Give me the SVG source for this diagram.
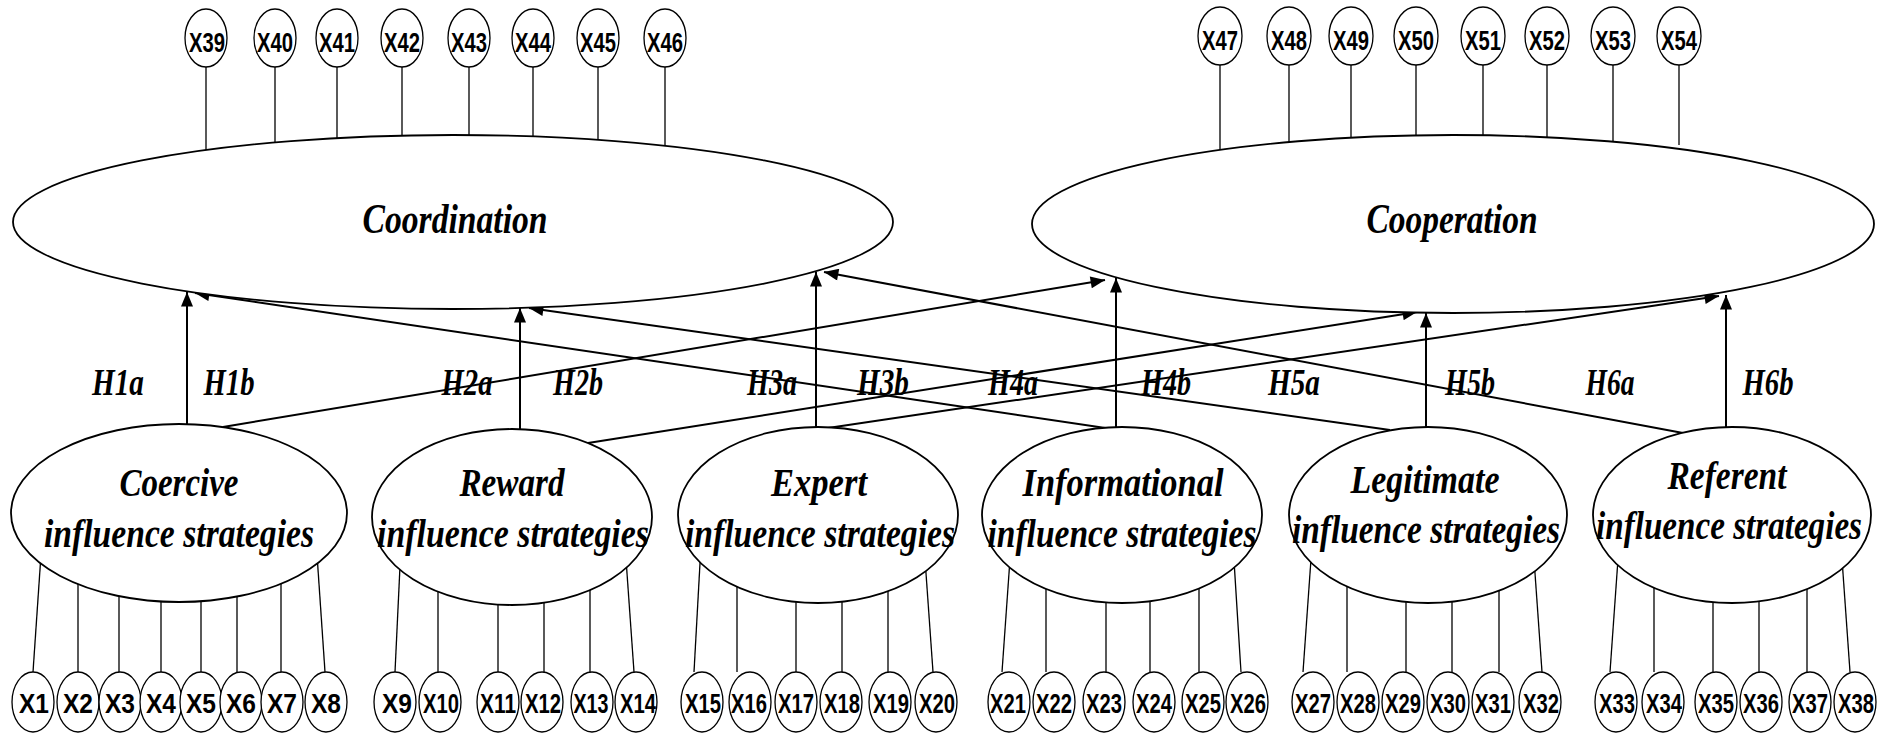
<svg xmlns="http://www.w3.org/2000/svg" width="1891" height="733" viewBox="0 0 1891 733">
  <style>
    .bg { fill: #ffffff; }
    .lat { fill: #ffffff; stroke: #000; stroke-width: 1.8; }
    .ind { fill: #ffffff; stroke: #000; stroke-width: 1.3; }
    .load { stroke: #000; stroke-width: 1.3; fill: none; }
    .path { stroke: #000; stroke-width: 2; fill: none; marker-end: url(#arrow); }
    .itxt { font-family: "Liberation Sans", Arial, sans-serif; font-weight: bold; fill: #000; text-anchor: middle; }
    .ltxt { font-family: "Liberation Serif", "Times New Roman", serif; font-style: italic; font-weight: bold; fill: #000; text-anchor: middle; }
    .big { font-size: 43px; }
    .mid { font-size: 40px; }
    .hyp { font-family: "Liberation Serif", "Times New Roman", serif; font-style: italic; font-weight: bold; font-size: 37px; fill: #000; text-anchor: middle; }
    .top { font-size: 27px; }
    .bot { font-size: 28px; }
  </style>
  <defs>
    <marker id="arrow" viewBox="0 0 12 10" refX="12" refY="5" markerWidth="16" markerHeight="12" markerUnits="userSpaceOnUse" orient="auto">
      <path d="M0,0 L12,5 L0,10 z" fill="#000"/>
    </marker>
  </defs>
  <rect class="bg" x="0" y="0" width="1891" height="733"/>

  <!-- loadings and structural paths -->
  <g id="connectors">
    <!-- Coordination indicators -->
    <line class="load" x1="206" y1="67" x2="206" y2="162"/>
    <line class="load" x1="275" y1="67" x2="275" y2="155"/>
    <line class="load" x1="337" y1="67" x2="337" y2="152"/>
    <line class="load" x1="402" y1="67" x2="402" y2="149"/>
    <line class="load" x1="469" y1="67" x2="469" y2="148"/>
    <line class="load" x1="533" y1="67" x2="533" y2="149"/>
    <line class="load" x1="598" y1="67" x2="598" y2="153"/>
    <line class="load" x1="665" y1="67" x2="665" y2="157"/>
    <!-- Cooperation indicators -->
    <line class="load" x1="1220" y1="65" x2="1220" y2="159"/>
    <line class="load" x1="1289" y1="65" x2="1289" y2="154"/>
    <line class="load" x1="1351" y1="65" x2="1351" y2="150"/>
    <line class="load" x1="1416" y1="65" x2="1416" y2="148"/>
    <line class="load" x1="1483" y1="65" x2="1483" y2="148"/>
    <line class="load" x1="1547" y1="65" x2="1547" y2="150"/>
    <line class="load" x1="1613" y1="65" x2="1613" y2="154"/>
    <line class="load" x1="1679" y1="65" x2="1679" y2="145"/>

    <!-- Coercive indicators -->
    <line class="load" x1="42" y1="540" x2="33" y2="672"/>
    <line class="load" x1="78" y1="560" x2="78" y2="672"/>
    <line class="load" x1="119" y1="560" x2="119" y2="672"/>
    <line class="load" x1="161" y1="560" x2="161" y2="672"/>
    <line class="load" x1="201" y1="560" x2="201" y2="672"/>
    <line class="load" x1="237" y1="560" x2="237" y2="672"/>
    <line class="load" x1="281" y1="560" x2="281" y2="672"/>
    <line class="load" x1="316" y1="540" x2="325" y2="672"/>
    <!-- Reward indicators -->
    <line class="load" x1="401" y1="545" x2="395" y2="672"/>
    <line class="load" x1="438" y1="560" x2="438" y2="672"/>
    <line class="load" x1="498" y1="560" x2="498" y2="672"/>
    <line class="load" x1="544" y1="560" x2="544" y2="672"/>
    <line class="load" x1="590" y1="560" x2="590" y2="672"/>
    <line class="load" x1="625" y1="545" x2="634" y2="672"/>
    <!-- Expert indicators -->
    <line class="load" x1="701" y1="545" x2="694" y2="672"/>
    <line class="load" x1="737" y1="560" x2="737" y2="672"/>
    <line class="load" x1="796" y1="560" x2="796" y2="672"/>
    <line class="load" x1="842" y1="560" x2="842" y2="672"/>
    <line class="load" x1="888" y1="560" x2="888" y2="672"/>
    <line class="load" x1="924" y1="545" x2="933" y2="672"/>
    <!-- Informational indicators -->
    <line class="load" x1="1011" y1="545" x2="1002" y2="672"/>
    <line class="load" x1="1046" y1="560" x2="1046" y2="672"/>
    <line class="load" x1="1106" y1="560" x2="1106" y2="672"/>
    <line class="load" x1="1150" y1="560" x2="1150" y2="672"/>
    <line class="load" x1="1199" y1="560" x2="1199" y2="672"/>
    <line class="load" x1="1233" y1="545" x2="1241" y2="672"/>
    <!-- Legitimate indicators -->
    <line class="load" x1="1312" y1="545" x2="1303" y2="672"/>
    <line class="load" x1="1347" y1="560" x2="1347" y2="672"/>
    <line class="load" x1="1406" y1="560" x2="1406" y2="672"/>
    <line class="load" x1="1452" y1="560" x2="1452" y2="672"/>
    <line class="load" x1="1499" y1="560" x2="1499" y2="672"/>
    <line class="load" x1="1533" y1="545" x2="1542" y2="672"/>
    <!-- Referent indicators -->
    <line class="load" x1="1619" y1="545" x2="1610" y2="672"/>
    <line class="load" x1="1654" y1="560" x2="1654" y2="672"/>
    <line class="load" x1="1713" y1="560" x2="1713" y2="672"/>
    <line class="load" x1="1759" y1="560" x2="1759" y2="672"/>
    <line class="load" x1="1807" y1="560" x2="1807" y2="672"/>
    <line class="load" x1="1841" y1="545" x2="1850" y2="672"/>

    <!-- structural paths -->
    <line class="path" x1="187" y1="424" x2="187" y2="292"/>
    <line class="path" x1="223" y1="427" x2="1105" y2="280"/>
    <line class="path" x1="520" y1="429" x2="520" y2="308"/>
    <line class="path" x1="588" y1="443" x2="1417" y2="312"/>
    <line class="path" x1="816" y1="427" x2="816" y2="272"/>
    <line class="path" x1="828" y1="428" x2="1719" y2="296"/>
    <line class="path" x1="1116" y1="427" x2="1116" y2="278"/>
    <line class="path" x1="1200" y1="442" x2="195" y2="293"/>
    <line class="path" x1="1426" y1="427" x2="1426" y2="313"/>
    <line class="path" x1="1390" y1="430" x2="529" y2="308"/>
    <line class="path" x1="1726" y1="427" x2="1726" y2="295"/>
    <line class="path" x1="1683" y1="433" x2="824" y2="272"/>
  </g>

  <!-- hypothesis labels -->
  <g id="hypotheses">
    <text class="hyp" x="118" y="395" textLength="52" lengthAdjust="spacingAndGlyphs">H1a</text>
    <text class="hyp" x="229" y="395" textLength="51" lengthAdjust="spacingAndGlyphs">H1b</text>
    <text class="hyp" x="467" y="395" textLength="51" lengthAdjust="spacingAndGlyphs">H2a</text>
    <text class="hyp" x="578" y="395" textLength="50" lengthAdjust="spacingAndGlyphs">H2b</text>
    <text class="hyp" x="772" y="395" textLength="50" lengthAdjust="spacingAndGlyphs">H3a</text>
    <text class="hyp" x="883" y="395" textLength="52" lengthAdjust="spacingAndGlyphs">H3b</text>
    <text class="hyp" x="1013" y="395" textLength="50" lengthAdjust="spacingAndGlyphs">H4a</text>
    <text class="hyp" x="1166" y="395" textLength="50" lengthAdjust="spacingAndGlyphs">H4b</text>
    <text class="hyp" x="1294" y="395" textLength="52" lengthAdjust="spacingAndGlyphs">H5a</text>
    <text class="hyp" x="1470" y="395" textLength="50" lengthAdjust="spacingAndGlyphs">H5b</text>
    <text class="hyp" x="1610" y="395" textLength="49" lengthAdjust="spacingAndGlyphs">H6a</text>
    <text class="hyp" x="1768" y="395" textLength="51" lengthAdjust="spacingAndGlyphs">H6b</text>
  </g>

  <!-- outcome constructs -->
  <g id="coordination">
    <ellipse class="lat" cx="453" cy="222" rx="440" ry="87"/>
    <text class="ltxt big" x="455" y="233" textLength="185" lengthAdjust="spacingAndGlyphs">Coordination</text>
  </g>
  <g id="cooperation">
    <ellipse class="lat" cx="1453" cy="224" rx="421" ry="89"/>
    <text class="ltxt big" x="1452" y="233" textLength="171" lengthAdjust="spacingAndGlyphs">Cooperation</text>
  </g>

  <!-- influence strategy constructs -->
  <g id="coercive">
    <ellipse class="lat" cx="179" cy="513" rx="168" ry="89"/>
    <text class="ltxt mid" x="179" y="496" textLength="119" lengthAdjust="spacingAndGlyphs">Coercive</text>
    <text class="ltxt mid" x="179" y="547" textLength="270" lengthAdjust="spacingAndGlyphs">influence strategies</text>
  </g>
  <g id="reward">
    <ellipse class="lat" cx="512" cy="517" rx="140" ry="88"/>
    <text class="ltxt mid" x="512" y="496" textLength="105" lengthAdjust="spacingAndGlyphs">Reward</text>
    <text class="ltxt mid" x="513" y="547" textLength="272" lengthAdjust="spacingAndGlyphs">influence strategies</text>
  </g>
  <g id="expert">
    <ellipse class="lat" cx="818" cy="515" rx="140" ry="88"/>
    <text class="ltxt mid" x="819" y="496" textLength="96" lengthAdjust="spacingAndGlyphs">Expert</text>
    <text class="ltxt mid" x="820" y="547" textLength="270" lengthAdjust="spacingAndGlyphs">influence strategies</text>
  </g>
  <g id="informational">
    <ellipse class="lat" cx="1122" cy="515" rx="140" ry="88"/>
    <text class="ltxt mid" x="1123" y="496" textLength="201" lengthAdjust="spacingAndGlyphs">Informational</text>
    <text class="ltxt mid" x="1122" y="547" textLength="269" lengthAdjust="spacingAndGlyphs">influence strategies</text>
  </g>
  <g id="legitimate">
    <ellipse class="lat" cx="1428" cy="515" rx="139" ry="88"/>
    <text class="ltxt mid" x="1425" y="493" textLength="149" lengthAdjust="spacingAndGlyphs">Legitimate</text>
    <text class="ltxt mid" x="1426" y="543" textLength="268" lengthAdjust="spacingAndGlyphs">influence strategies</text>
  </g>
  <g id="referent">
    <ellipse class="lat" cx="1732" cy="515" rx="139" ry="88"/>
    <text class="ltxt mid" x="1727" y="489" textLength="119" lengthAdjust="spacingAndGlyphs">Referent</text>
    <text class="ltxt mid" x="1729" y="539" textLength="266" lengthAdjust="spacingAndGlyphs">influence strategies</text>
  </g>

  <!-- Coordination indicators -->
  <g id="x39"><ellipse class="ind" cx="206" cy="38" rx="21" ry="29"/><text class="itxt top" x="207" y="52" textLength="36" lengthAdjust="spacingAndGlyphs">X39</text></g>
  <g id="x40"><ellipse class="ind" cx="275" cy="38" rx="21" ry="29"/><text class="itxt top" x="275" y="52" textLength="36" lengthAdjust="spacingAndGlyphs">X40</text></g>
  <g id="x41"><ellipse class="ind" cx="337" cy="38" rx="21" ry="29"/><text class="itxt top" x="337" y="52" textLength="36" lengthAdjust="spacingAndGlyphs">X41</text></g>
  <g id="x42"><ellipse class="ind" cx="402" cy="38" rx="21" ry="29"/><text class="itxt top" x="402" y="52" textLength="36" lengthAdjust="spacingAndGlyphs">X42</text></g>
  <g id="x43"><ellipse class="ind" cx="469" cy="38" rx="21" ry="29"/><text class="itxt top" x="469" y="52" textLength="36" lengthAdjust="spacingAndGlyphs">X43</text></g>
  <g id="x44"><ellipse class="ind" cx="533" cy="38" rx="21" ry="29"/><text class="itxt top" x="533" y="52" textLength="36" lengthAdjust="spacingAndGlyphs">X44</text></g>
  <g id="x45"><ellipse class="ind" cx="598" cy="38" rx="21" ry="29"/><text class="itxt top" x="598" y="52" textLength="36" lengthAdjust="spacingAndGlyphs">X45</text></g>
  <g id="x46"><ellipse class="ind" cx="665" cy="38" rx="21" ry="29"/><text class="itxt top" x="665" y="52" textLength="36" lengthAdjust="spacingAndGlyphs">X46</text></g>

  <!-- Cooperation indicators -->
  <g id="x47"><ellipse class="ind" cx="1220" cy="36" rx="22" ry="29"/><text class="itxt top" x="1220" y="50" textLength="36" lengthAdjust="spacingAndGlyphs">X47</text></g>
  <g id="x48"><ellipse class="ind" cx="1289" cy="36" rx="22" ry="29"/><text class="itxt top" x="1289" y="50" textLength="36" lengthAdjust="spacingAndGlyphs">X48</text></g>
  <g id="x49"><ellipse class="ind" cx="1351" cy="36" rx="22" ry="29"/><text class="itxt top" x="1351" y="50" textLength="36" lengthAdjust="spacingAndGlyphs">X49</text></g>
  <g id="x50"><ellipse class="ind" cx="1416" cy="36" rx="22" ry="29"/><text class="itxt top" x="1416" y="50" textLength="36" lengthAdjust="spacingAndGlyphs">X50</text></g>
  <g id="x51"><ellipse class="ind" cx="1483" cy="36" rx="22" ry="29"/><text class="itxt top" x="1483" y="50" textLength="36" lengthAdjust="spacingAndGlyphs">X51</text></g>
  <g id="x52"><ellipse class="ind" cx="1547" cy="36" rx="22" ry="29"/><text class="itxt top" x="1547" y="50" textLength="36" lengthAdjust="spacingAndGlyphs">X52</text></g>
  <g id="x53"><ellipse class="ind" cx="1613" cy="36" rx="22" ry="29"/><text class="itxt top" x="1613" y="50" textLength="36" lengthAdjust="spacingAndGlyphs">X53</text></g>
  <g id="x54"><ellipse class="ind" cx="1679" cy="36" rx="22" ry="29"/><text class="itxt top" x="1679" y="50" textLength="36" lengthAdjust="spacingAndGlyphs">X54</text></g>

  <!-- Coercive indicators -->
  <g id="x1"><ellipse class="ind" cx="33" cy="702" rx="21" ry="30"/><text class="itxt bot" x="34" y="713" textLength="30" lengthAdjust="spacingAndGlyphs">X1</text></g>
  <g id="x2"><ellipse class="ind" cx="78" cy="702" rx="21" ry="30"/><text class="itxt bot" x="78" y="713" textLength="30" lengthAdjust="spacingAndGlyphs">X2</text></g>
  <g id="x3"><ellipse class="ind" cx="120" cy="702" rx="21" ry="30"/><text class="itxt bot" x="120" y="713" textLength="30" lengthAdjust="spacingAndGlyphs">X3</text></g>
  <g id="x4"><ellipse class="ind" cx="161" cy="702" rx="21" ry="30"/><text class="itxt bot" x="161" y="713" textLength="30" lengthAdjust="spacingAndGlyphs">X4</text></g>
  <g id="x5"><ellipse class="ind" cx="201" cy="702" rx="21" ry="30"/><text class="itxt bot" x="201" y="713" textLength="30" lengthAdjust="spacingAndGlyphs">X5</text></g>
  <g id="x6"><ellipse class="ind" cx="241" cy="702" rx="21" ry="30"/><text class="itxt bot" x="241" y="713" textLength="30" lengthAdjust="spacingAndGlyphs">X6</text></g>
  <g id="x7"><ellipse class="ind" cx="282" cy="702" rx="21" ry="30"/><text class="itxt bot" x="282" y="713" textLength="30" lengthAdjust="spacingAndGlyphs">X7</text></g>
  <g id="x8"><ellipse class="ind" cx="326" cy="702" rx="21" ry="30"/><text class="itxt bot" x="326" y="713" textLength="30" lengthAdjust="spacingAndGlyphs">X8</text></g>

  <!-- Reward indicators -->
  <g id="x9"><ellipse class="ind" cx="395" cy="702" rx="21" ry="30"/><text class="itxt bot" x="397" y="713" textLength="30" lengthAdjust="spacingAndGlyphs">X9</text></g>
  <g id="x10"><ellipse class="ind" cx="440" cy="702" rx="21" ry="30"/><text class="itxt bot" x="441" y="713" textLength="36" lengthAdjust="spacingAndGlyphs">X10</text></g>
  <g id="x11"><ellipse class="ind" cx="498" cy="702" rx="21" ry="30"/><text class="itxt bot" x="498" y="713" textLength="36" lengthAdjust="spacingAndGlyphs">X11</text></g>
  <g id="x12"><ellipse class="ind" cx="542" cy="702" rx="21" ry="30"/><text class="itxt bot" x="543" y="713" textLength="36" lengthAdjust="spacingAndGlyphs">X12</text></g>
  <g id="x13"><ellipse class="ind" cx="592" cy="702" rx="21" ry="30"/><text class="itxt bot" x="591" y="713" textLength="35" lengthAdjust="spacingAndGlyphs">X13</text></g>
  <g id="x14"><ellipse class="ind" cx="636" cy="702" rx="21" ry="30"/><text class="itxt bot" x="638" y="713" textLength="36" lengthAdjust="spacingAndGlyphs">X14</text></g>

  <!-- Expert indicators -->
  <g id="x15"><ellipse class="ind" cx="702" cy="702" rx="21" ry="30"/><text class="itxt bot" x="703" y="713" textLength="36" lengthAdjust="spacingAndGlyphs">X15</text></g>
  <g id="x16"><ellipse class="ind" cx="750" cy="702" rx="21" ry="30"/><text class="itxt bot" x="749" y="713" textLength="36" lengthAdjust="spacingAndGlyphs">X16</text></g>
  <g id="x17"><ellipse class="ind" cx="796" cy="702" rx="21" ry="30"/><text class="itxt bot" x="796" y="713" textLength="36" lengthAdjust="spacingAndGlyphs">X17</text></g>
  <g id="x18"><ellipse class="ind" cx="841" cy="702" rx="21" ry="30"/><text class="itxt bot" x="842" y="713" textLength="36" lengthAdjust="spacingAndGlyphs">X18</text></g>
  <g id="x19"><ellipse class="ind" cx="890" cy="702" rx="21" ry="30"/><text class="itxt bot" x="891" y="713" textLength="36" lengthAdjust="spacingAndGlyphs">X19</text></g>
  <g id="x20"><ellipse class="ind" cx="936" cy="702" rx="21" ry="30"/><text class="itxt bot" x="937" y="713" textLength="36" lengthAdjust="spacingAndGlyphs">X20</text></g>

  <!-- Informational indicators -->
  <g id="x21"><ellipse class="ind" cx="1009" cy="702" rx="21" ry="30"/><text class="itxt bot" x="1008" y="713" textLength="36" lengthAdjust="spacingAndGlyphs">X21</text></g>
  <g id="x22"><ellipse class="ind" cx="1054" cy="702" rx="21" ry="30"/><text class="itxt bot" x="1054" y="713" textLength="36" lengthAdjust="spacingAndGlyphs">X22</text></g>
  <g id="x23"><ellipse class="ind" cx="1104" cy="702" rx="21" ry="30"/><text class="itxt bot" x="1104" y="713" textLength="36" lengthAdjust="spacingAndGlyphs">X23</text></g>
  <g id="x24"><ellipse class="ind" cx="1154" cy="702" rx="21" ry="30"/><text class="itxt bot" x="1154" y="713" textLength="36" lengthAdjust="spacingAndGlyphs">X24</text></g>
  <g id="x25"><ellipse class="ind" cx="1203" cy="702" rx="21" ry="30"/><text class="itxt bot" x="1203" y="713" textLength="36" lengthAdjust="spacingAndGlyphs">X25</text></g>
  <g id="x26"><ellipse class="ind" cx="1247" cy="702" rx="21" ry="30"/><text class="itxt bot" x="1248" y="713" textLength="36" lengthAdjust="spacingAndGlyphs">X26</text></g>

  <!-- Legitimate indicators -->
  <g id="x27"><ellipse class="ind" cx="1313" cy="702" rx="21" ry="30"/><text class="itxt bot" x="1313" y="713" textLength="36" lengthAdjust="spacingAndGlyphs">X27</text></g>
  <g id="x28"><ellipse class="ind" cx="1358" cy="702" rx="21" ry="30"/><text class="itxt bot" x="1358" y="713" textLength="36" lengthAdjust="spacingAndGlyphs">X28</text></g>
  <g id="x29"><ellipse class="ind" cx="1403" cy="702" rx="21" ry="30"/><text class="itxt bot" x="1403" y="713" textLength="36" lengthAdjust="spacingAndGlyphs">X29</text></g>
  <g id="x30"><ellipse class="ind" cx="1448" cy="702" rx="21" ry="30"/><text class="itxt bot" x="1448" y="713" textLength="36" lengthAdjust="spacingAndGlyphs">X30</text></g>
  <g id="x31"><ellipse class="ind" cx="1493" cy="702" rx="21" ry="30"/><text class="itxt bot" x="1493" y="713" textLength="36" lengthAdjust="spacingAndGlyphs">X31</text></g>
  <g id="x32"><ellipse class="ind" cx="1540" cy="702" rx="21" ry="30"/><text class="itxt bot" x="1541" y="713" textLength="36" lengthAdjust="spacingAndGlyphs">X32</text></g>

  <!-- Referent indicators -->
  <g id="x33"><ellipse class="ind" cx="1616" cy="702" rx="21" ry="30"/><text class="itxt bot" x="1617" y="713" textLength="36" lengthAdjust="spacingAndGlyphs">X33</text></g>
  <g id="x34"><ellipse class="ind" cx="1663" cy="702" rx="21" ry="30"/><text class="itxt bot" x="1664" y="713" textLength="36" lengthAdjust="spacingAndGlyphs">X34</text></g>
  <g id="x35"><ellipse class="ind" cx="1716" cy="702" rx="21" ry="30"/><text class="itxt bot" x="1716" y="713" textLength="36" lengthAdjust="spacingAndGlyphs">X35</text></g>
  <g id="x36"><ellipse class="ind" cx="1761" cy="702" rx="21" ry="30"/><text class="itxt bot" x="1761" y="713" textLength="36" lengthAdjust="spacingAndGlyphs">X36</text></g>
  <g id="x37"><ellipse class="ind" cx="1810" cy="702" rx="21" ry="30"/><text class="itxt bot" x="1810" y="713" textLength="36" lengthAdjust="spacingAndGlyphs">X37</text></g>
  <g id="x38"><ellipse class="ind" cx="1855" cy="702" rx="21" ry="30"/><text class="itxt bot" x="1856" y="713" textLength="36" lengthAdjust="spacingAndGlyphs">X38</text></g>
</svg>
